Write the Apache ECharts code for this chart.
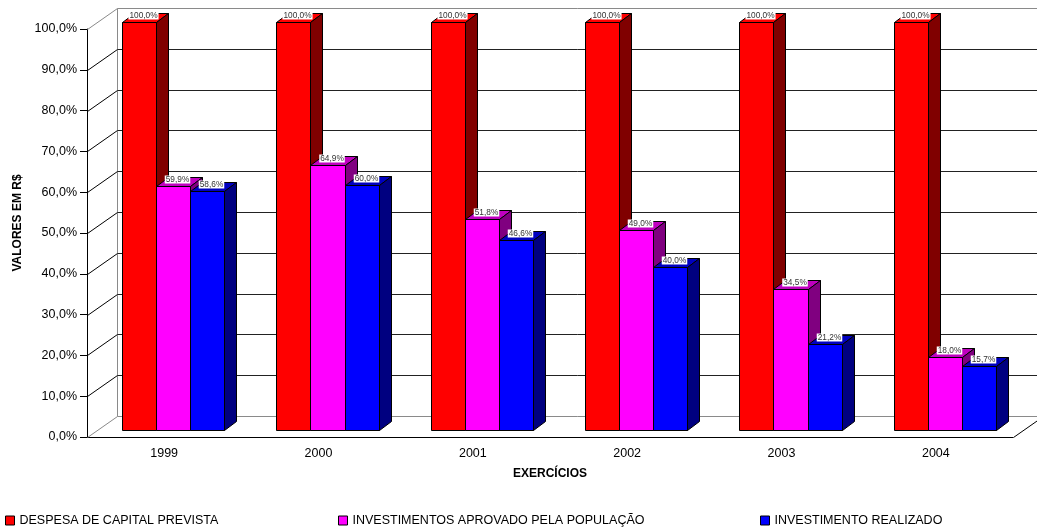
<!DOCTYPE html>
<html>
<head>
<meta charset="utf-8">
<script src="https://cdn.jsdelivr.net/npm/echarts@6/dist/echarts.min.js"></script>
<style>
  html, body { margin: 0; padding: 0; background: #fff; }
  #chart { width: 1037px; height: 530px; }
</style>
</head>
<body>
<div id="chart"></div>
<script>
// Exercícios e percentuais de cada série
const years = ['1999', '2000', '2001', '2002', '2003', '2004'];
const despesaPrevista = [100.0, 100.0, 100.0, 100.0, 100.0, 100.0];
const investAprovado = [59.9, 64.9, 51.8, 49.0, 34.5, 18.0];
const investRealizado = [58.6, 60.0, 46.6, 40.0, 21.2, 15.7];
const yTicks = [0, 10, 20, 30, 40, 50, 60, 70, 80, 90, 100];
const seriesNames = [
  'DESPESA DE CAPITAL PREVISTA',
  'INVESTIMENTOS APROVADO PELA POPULAÇÃO',
  'INVESTIMENTO REALIZADO'
];

const FONT = '"Liberation Sans", Arial, sans-serif';
// 3D box offsets in pixels: back wall, plane of the bars, bar thickness
const WALL = [30, -21];
const PLANE = [9, -7];
const DEPTH = [12, -9];

const fmt = v => v.toFixed(1).replace('.', ',') + '%';
const px = v => Math.round(v) + 0.5;

const palettes = [
  { front: '#ff0000', top: '#ff0000', side: '#800000' },
  { front: '#ff00ff', top: '#c000c0', side: '#800080' },
  { front: '#0000ff', top: '#0000c0', side: '#000080' }
];

// One prism per value: front face, top face, right side and value label
function barRenderer(slot) {
  const pal = palettes[slot];
  return function (params, api) {
    const cat = api.value(0);
    const val = api.value(1);
    const catW = api.size([1, 0])[0];
    const base = api.coord([cat, 0]);
    const topPt = api.coord([cat, val]);
    const gap = catW * 26 / 154;
    const bw = catW * 34 / 154;
    const x0 = px(base[0] - catW / 2 + PLANE[0] + gap + slot * bw);
    const x1 = px(base[0] - catW / 2 + PLANE[0] + gap + (slot + 1) * bw);
    const yb = px(base[1] + PLANE[1]);
    const yt = px(topPt[1] + PLANE[1]);
    const dx = DEPTH[0], dy = DEPTH[1];
    const edge = { stroke: '#000', lineWidth: 1 };
    return {
      type: 'group',
      children: [
        { type: 'rect', shape: { x: x0, y: yt, width: x1 - x0, height: yb - yt },
          style: Object.assign({ fill: pal.front }, edge) },
        { type: 'polygon', shape: { points: [[x0, yt], [x0 + dx, yt + dy], [x1 + dx, yt + dy], [x1, yt]] },
          style: Object.assign({ fill: pal.top }, edge) },
        { type: 'polygon', shape: { points: [[x1, yt], [x1 + dx, yt + dy], [x1 + dx, yb + dy], [x1, yb]] },
          style: Object.assign({ fill: pal.side }, edge) },
        { type: 'text', z2: 10,
          style: { text: fmt(val), x: (x0 + x1) / 2 + 4, y: yt - 3, align: 'center', verticalAlign: 'bottom',
                   font: '8.3px ' + FONT, fill: '#333', backgroundColor: '#fff', padding: [0, 1, 0, 1] } }
      ]
    };
  };
}

// Left wall diagonals and back wall gridlines, one per tick value
function wallRenderer(params, api) {
  const v = api.value(1);
  const cs = params.coordSys;
  const y = px(api.coord([0, v])[1]);
  const xl = px(cs.x), xr = px(cs.x + cs.width);
  const bx = xl + WALL[0], by = y + WALL[1];
  const grey = '#8a8a8a';
  const outer = (v === 0 || v === 100);
  const children = [
    { type: 'line', shape: { x1: xl, y1: y, x2: bx, y2: by },
      style: { stroke: outer ? grey : '#000', lineWidth: 1 } },
    { type: 'line', shape: { x1: bx, y1: by, x2: xr + WALL[0], y2: by },
      style: { stroke: outer ? grey : '#222', lineWidth: 1 } }
  ];
  if (v === 0) {
    const yTop = px(api.coord([0, 100])[1]) + WALL[1];
    children.push({ type: 'line', shape: { x1: bx, y1: by, x2: bx, y2: yTop },
      style: { stroke: grey, lineWidth: 1 } });
    children.push({ type: 'line', shape: { x1: xr, y1: y, x2: xr + WALL[0], y2: by },
      style: { stroke: '#000', lineWidth: 1 } });
  }
  return { type: 'group', children };
}

const valueSets = [despesaPrevista, investAprovado, investRealizado];

const chart = echarts.init(document.getElementById('chart'));
chart.setOption({
  backgroundColor: '#fff',
  animation: false,
  textStyle: { fontFamily: FONT },
  grid: { left: 87, right: 24, top: 29, bottom: 93 },
  legend: seriesNames.map((name, i) => ({
    data: [name],
    left: [5, 338, 760][i],
    top: 514,
    padding: 0,
    icon: 'rect',
    itemWidth: 9,
    itemHeight: 9,
    itemStyle: { borderColor: '#000', borderWidth: 1 },
    textStyle: { fontSize: 12.5, color: '#000', fontFamily: FONT },
    selectedMode: false
  })),
  xAxis: {
    type: 'category',
    data: years,
    boundaryGap: true,
    name: 'EXERCÍCIOS',
    nameLocation: 'middle',
    nameGap: 31,
    nameTextStyle: { fontSize: 12, fontWeight: 'bold', color: '#000', fontFamily: FONT },
    axisLine: { lineStyle: { color: '#000', width: 1 } },
    axisTick: { length: 6, lineStyle: { color: '#000' } },
    axisLabel: { fontSize: 12.5, color: '#000', margin: 10, fontFamily: FONT },
    splitLine: { show: false }
  },
  yAxis: {
    type: 'value',
    min: 0,
    max: 100,
    interval: 10,
    name: 'VALORES EM R$',
    nameLocation: 'middle',
    nameGap: 62,
    nameTextStyle: { fontSize: 12, fontWeight: 'bold', color: '#000', fontFamily: FONT,
                     padding: [0, 0, 0, 20] },
    axisLine: { show: true, lineStyle: { color: '#000', width: 1 } },
    axisTick: { show: true, length: 7, lineStyle: { color: '#000' } },
    axisLabel: { fontSize: 12.5, color: '#000', margin: 10, fontFamily: FONT,
                 formatter: v => fmt(v) },
    splitLine: { show: false }
  },
  series: [
    {
      type: 'custom',
      name: 'walls',
      silent: true,
      data: yTicks.map(v => [0, v]),
      encode: { x: 0, y: 1 },
      renderItem: wallRenderer,
      z: 1
    }
  ].concat(valueSets.map((vals, i) => ({
    type: 'custom',
    name: seriesNames[i],
    itemStyle: { color: palettes[i].front },
    data: vals.map((v, k) => [k, v]),
    encode: { x: 0, y: 1 },
    renderItem: barRenderer(i),
    z: 2 + i
  })))
});
</script>
</body>
</html>
